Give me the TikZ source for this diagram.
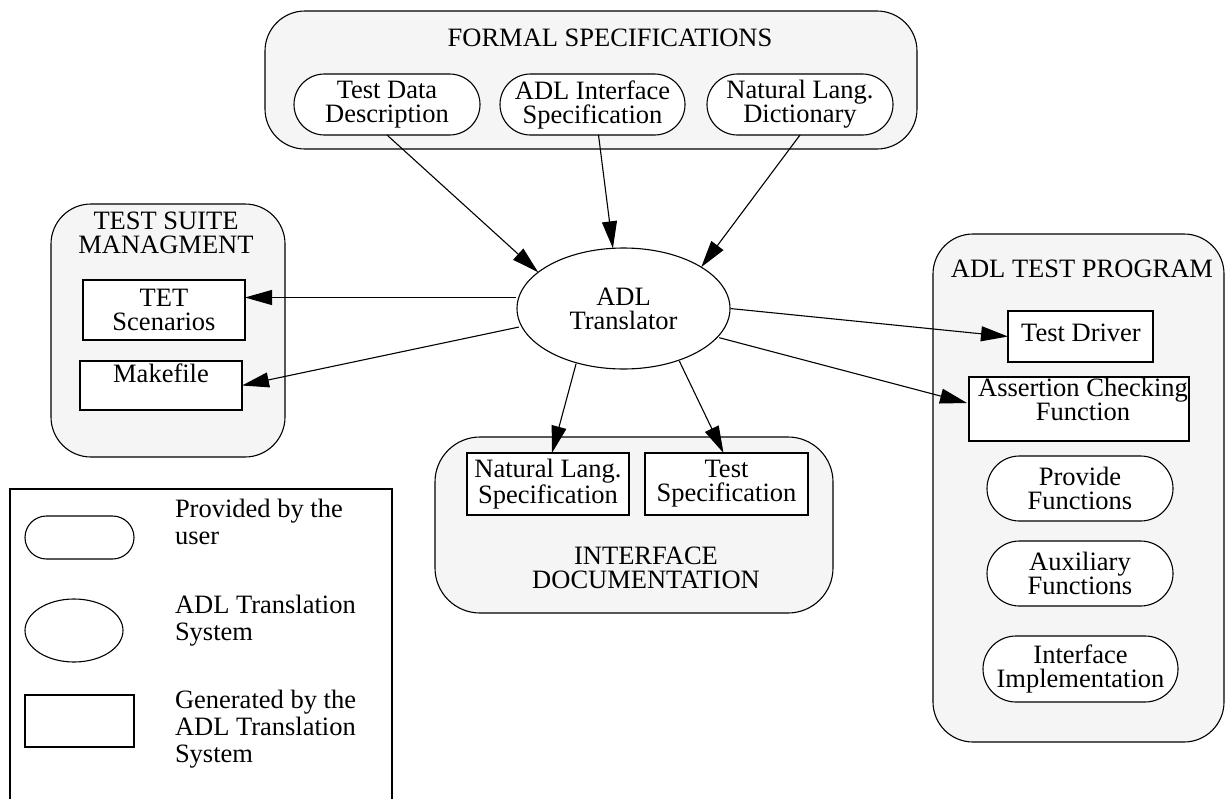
\documentclass[tikz,border=0pt]{standalone}
\usepackage{fontspec}
\setmainfont{Liberation Serif}
\usetikzlibrary{arrows.meta,calc,shapes.geometric}
\definecolor{boxgray}{RGB}{245,245,245}
\begin{document}
\begin{tikzpicture}[x=1pt,y=-1pt,
  every node/.style={font=\fontsize{26.5}{24}\selectfont, inner sep=0pt, outer sep=0pt},
  container/.style={draw, line width=1.1pt, fill=boxgray, rounded corners=40pt},
  pill/.style={draw, line width=1.1pt, fill=white, rounded corners=#1, align=center},
  genbox/.style={draw, line width=1.1pt, fill=white, align=center},
  transl/.style={draw, line width=1.1pt, fill=white, ellipse, align=center},
  title/.style={align=center},
  arr/.style={line width=1.1pt, -{Triangle[length=27pt,width=15pt]}},
  legtext/.style={align=left, anchor=north west, font=\fontsize{26.5}{27}\selectfont}
]
\useasboundingbox (0,0) rectangle (1226,798);

% containers
\node[container, minimum width=652pt, minimum height=138pt] (fsbox) at (591,80) {};
\node[container, minimum width=234pt, minimum height=253pt] (tsmbox) at (168,330.5) {};
\node[container, minimum width=291pt, minimum height=508pt] (tpbox) at (1078.5,488) {};
\node[container, minimum width=398pt, minimum height=176pt, rounded corners=45pt] (idbox) at (634,525) {};

% container titles
\node[title, anchor=base] (fstitle) at (610,46) {FORMAL SPECIFICATIONS};
\node[title, anchor=north, font=\fontsize{26.5}{24}\selectfont] (tsmtitle) at (166,211.5) {TEST SUITE\\MANAGMENT};
\node[title, anchor=base] (tptitle) at (1082,277) {ADL TEST PROGRAM};
\node[title, anchor=north, font=\fontsize{26.5}{24}\selectfont] (idtitle) at (646,547) {INTERFACE\\DOCUMENTATION};

% formal specifications
\node[pill=30.5pt, minimum width=186pt, minimum height=61pt] (td) at (387,104.5) {Test Data\\Description};
\node[pill=30.5pt, minimum width=185pt, minimum height=61pt] (ai) at (592.5,104.5) {ADL Interface\\Specification};
\node[pill=30.5pt, minimum width=186pt, minimum height=61pt] (nl) at (800,104.5) {Natural Lang.\\Dictionary};

% translator
\node[transl, minimum width=213pt, minimum height=121pt] (tr) at (623.5,308.5) {ADL\\Translator};

% test suite management
\node[genbox, minimum width=162pt, minimum height=60pt] (tet) at (164,310) {TET\\Scenarios};
\node[genbox, minimum width=162pt, minimum height=49pt] (mk) at (161,385.5) {};
\node[anchor=base] (mktext) at (161,382) {Makefile};

% test program
\node[genbox, minimum width=145pt, minimum height=51pt] (drv) at (1080.5,336.5) {};
\node[anchor=base] (drvtext) at (1081,341) {Test Driver};
\node[genbox, minimum width=220pt, minimum height=64pt] (acf) at (1079,409) {};
\node[align=center, anchor=north] (acftext) at (1083,378) {Assertion Checking\\Function};
\node[pill=32.5pt, minimum width=186pt, minimum height=65pt] (pf) at (1080,488.5) {Provide\\Functions};
\node[pill=32.5pt, minimum width=186pt, minimum height=65pt] (af) at (1080,573.5) {Auxiliary\\Functions};
\node[pill=33pt, minimum width=195pt, minimum height=66pt] (ii) at (1080.5,669) {Interface\\Implementation};

% interface documentation
\node[genbox, minimum width=162pt, minimum height=62pt] (nls) at (548,484) {Natural Lang.\\Specification};
\node[genbox, minimum width=163pt, minimum height=62pt] (ts) at (726.5,484) {Test\\Specification};

% connectors
\draw[arr] (td.south) -- (tr.157);
\draw[arr] ($(ai.south)+(6,0)$) -- (tr.100);
\draw[arr] (nl.south) -- (tr.28);
\draw[arr, shorten <=3pt] (tr.174) -- (tr.174 -| tet.east);
\draw[arr, shorten <=3pt] (tr.190) -- (mk.east);
\draw[arr, shorten <=1pt] (tr.east) -- (drv.west);
\draw[arr, shorten <=2pt] (tr.343) -- ($(acf.west)+(-2,-6)$);
\draw[arr, shorten <=1pt] (tr.229) -- ($(nls.north)+(4,0)$);
\draw[arr, shorten <=1pt] (tr.317) -- ($(ts.north)+(-3,0)$);

% legend
\draw[line width=1.1pt] (10,799) -- (10,489) -- (392,489) -- (392,799);
\node[pill=21.5pt, minimum width=109pt, minimum height=43pt] (legpill) at (79.5,537.5) {};
\node[transl, minimum width=98pt, minimum height=63pt] (legell) at (74,630.5) {};
\node[genbox, minimum width=109pt, minimum height=52pt] (legbox) at (79.5,721) {};
\node[legtext] (legt1) at (175,499) {Provided by the\\user};
\node[legtext] (legt2) at (175,595) {ADL Translation\\System};
\node[legtext] (legt3) at (175,690) {Generated by the\\ADL Translation\\System};
\end{tikzpicture}
\end{document}
